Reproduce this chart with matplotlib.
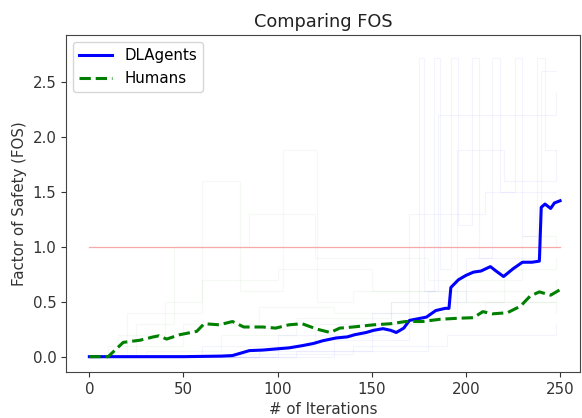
import matplotlib
matplotlib.use("Agg")
import matplotlib.pyplot as plt

# mean FOS curves
agent_x = [0, 50, 70, 76, 80, 85, 92, 99, 106, 113, 119, 124, 131, 137, 141, 147, 151, 156,
           160, 163, 167, 170, 179, 184, 189, 191, 192, 196, 200, 204, 208, 213, 216, 220,
           225, 230, 235, 239, 240, 242, 245, 247, 250]
agent_y = [0, 0, 0.005, 0.01, 0.03, 0.055, 0.06, 0.07, 0.08, 0.10, 0.12, 0.145, 0.17, 0.18,
           0.2, 0.22, 0.24, 0.255, 0.24, 0.22, 0.26, 0.33, 0.36, 0.42, 0.44, 0.44, 0.63,
           0.70, 0.74, 0.77, 0.78, 0.82, 0.78, 0.73, 0.80, 0.86, 0.86, 0.87, 1.36, 1.39,
           1.35, 1.40, 1.42]

human_x = [0, 10, 18, 27, 34, 37, 41, 48, 57, 61, 69, 76, 82, 92, 99, 106, 113, 121, 128,
           133, 140, 151, 160, 168, 177, 186, 196, 204, 209, 214, 222, 229, 234, 239, 245, 250]
human_y = [0, 0, 0.13, 0.15, 0.18, 0.19, 0.16, 0.2, 0.23, 0.3, 0.29, 0.32, 0.27, 0.27, 0.26,
           0.29, 0.30, 0.25, 0.22, 0.26, 0.27, 0.29, 0.30, 0.32, 0.32, 0.34, 0.35, 0.355,
           0.41, 0.39, 0.40, 0.46, 0.55, 0.59, 0.56, 0.61]

# individual runs drawn faintly behind the means
agent_runs = [
    ([0, 60, 120, 175, 178, 183, 186, 192, 196, 203, 207, 214, 218, 226, 230, 238, 242, 248],
     [0, 0.1, 0.3, 2.72, 0.6, 2.72, 0.8, 2.72, 1.2, 2.72, 0.9, 2.72, 1.5, 2.72, 1.1, 2.72, 1.88, 1.88]),
    ([0, 90, 150, 195, 220, 248], [0, 0.05, 0.4, 1.88, 1.6, 1.88]),
    ([0, 100, 160, 200, 239, 240, 248], [0, 0.2, 0.5, 0.9, 0.9, 2.6, 2.6]),
    ([0, 130, 170, 210, 248], [0, 0.15, 1.3, 1.5, 1.5]),
    ([0, 80, 140, 190, 248], [0, 0.02, 0.1, 0.2, 0.3]),
    ([0, 110, 180, 185, 248], [0, 0.05, 0.6, 2.2, 2.4]),
]
human_runs = [
    ([0, 20, 60, 80, 103, 121, 140, 248], [0, 0.4, 1.6, 0.6, 1.88, 0.5, 0.6, 0.7]),
    ([0, 15, 40, 60, 100, 150, 200, 248], [0, 0.2, 0.5, 0.7, 0.8, 0.6, 0.5, 0.4]),
    ([0, 10, 50, 90, 130, 170, 210, 248], [0, 0.1, 0.3, 0.45, 0.4, 0.35, 0.5, 0.6]),
    ([0, 30, 70, 110, 160, 220, 248], [0, 0.05, 0.2, 0.35, 0.5, 0.8, 0.9]),
    ([0, 25, 45, 85, 120, 180, 230, 248], [0, 0.3, 1.0, 1.3, 0.9, 0.7, 1.1, 1.0]),
]

fig = plt.figure(figsize=(5.82, 4.18), dpi=100)
ax = fig.add_axes([0.1134, 0.11, 0.8832, 0.8063])

for xs, ys in agent_runs:
    ax.step(xs, ys, where="post", color="blue", alpha=0.045, lw=0.8)
for xs, ys in human_runs:
    ax.step(xs, ys, where="post", color="green", alpha=0.045, lw=0.8)

ax.plot([0, 250], [1.0, 1.0], color="#f8a8a8", lw=0.9)
ax.plot(agent_x, agent_y, color="blue", lw=2.2, label="DLAgents")
ax.plot(human_x, human_y, color="green", lw=2.2, ls="--", label="Humans")

ax.set_xlim(-12.4, 260.6)
ax.set_ylim(-0.14, 2.93)
ax.set_xticks([0, 50, 100, 150, 200, 250])
ax.set_yticks([0.0, 0.5, 1.0, 1.5, 2.0, 2.5])
ax.tick_params(labelsize=10.8, colors="#333333")
for s in ax.spines.values():
    s.set_color("#444444")
ax.set_title("Comparing FOS", fontsize=12.8, color="#222222")
ax.set_xlabel("# of Iterations", fontsize=10.8, color="#333333", labelpad=4)
ax.set_ylabel("Factor of Safety (FOS)", fontsize=10.8, color="#333333")
ax.legend(loc="upper left", fontsize=10.8, handlelength=2.2)

fig.savefig("out.png", dpi=100)
